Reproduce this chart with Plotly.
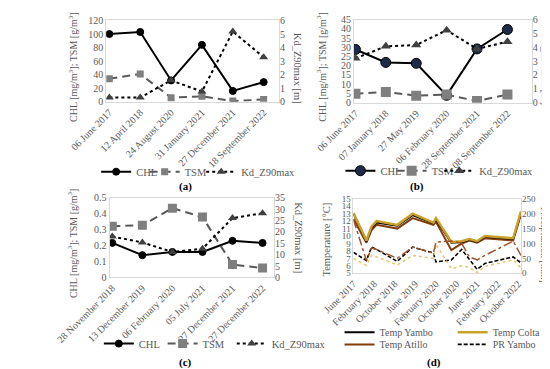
import plotly.graph_objects as go

W, H = 550, 369
FONT = "Liberation Serif"
GRAY = "#595959"

# ---------------- data ----------------
a_dates = ["06 June 2017", "12 April 2018", "24 August 2020", "31 January 2021",
           "27 December 2021", "18 September 2022"]
a_chl = [100, 103, 31.5, 84, 16, 29]
a_tsm = [34, 41, 6, 8, 1, 3.3]
a_kd = [0.31, 0.31, 1.58, 0.75, 5.18, 3.29]

b_dates = ["06 June 2017", "07 January 2018", "27 May 2019", "06 February 2020",
           "28 September 2021", "08 September 2022"]
b_chl = [28.8, 21.8, 21.3, 4.0, 29.1, 39.6]
b_tsm = [4.9, 5.8, 3.8, 4.4, 0.9, 4.4]
b_kd = [3.2, 4.07, 4.16, 5.23, 3.88, 4.4]

c_dates = ["28 November 2018", "13 December 2019", "06 February 2020", "05 July 2021",
           "27 December 2021", "27 December 2022"]
c_chl = [0.217, 0.14, 0.16, 0.16, 0.23, 0.217]
c_tsm = [0.322, 0.328, 0.435, 0.379, 0.081, 0.059]
c_kd = [18.0, 15.4, 11.2, 12.6, 26.1, 28.2]

d_dates = ["2017-06-01", "2017-11-01", "2018-01-01", "2018-03-01", "2018-11-01",
           "2019-05-01", "2020-01-01", "2020-02-01", "2020-08-01", "2020-12-01",
           "2021-03-01", "2021-06-01", "2021-09-01", "2022-08-01", "2022-11-01"]
temp_yambo = [13.0, 9.3, 11.1, 11.8, 11.4, 12.8, 11.7, 12.2, 9.1, 9.2, 9.5, 9.2, 9.9, 9.6, 13.1]
temp_colta = [13.1, 9.4, 11.3, 12.0, 11.5, 13.0, 11.8, 12.4, 9.2, 9.3, 9.6, 9.3, 10.0, 9.7, 13.3]
temp_atillo = [12.3, 9.1, 10.8, 11.5, 11.0, 12.4, 11.5, 11.9, 8.1, 9.0, 9.4, 9.1, 9.7, 9.4, 12.9]
pr_yambo = [70, 43, 88, 80, 40, 88, 68, 38, 45, 80, 47, 13, 33, 55, 35]
pr_colta = [50, 26, 60, 55, 28, 60, 50, 97, 15, 25, 20, 2, 23, 45, 18]
pr_atillo = [180, 43, 85, 80, 50, 88, 68, 105, 108, 100, 55, 45, 60, 108, 60]

# ---------------- helpers ----------------
def px_x(a, b):
    return [a / W, b / W]

def px_y(top, bottom):
    return [1 - bottom / H, 1 - top / H]

fig = go.Figure()
legends = {}

def new_legend(x0, yc, size=10.5):
    name = "legend" if not legends else "legend%d" % (len(legends) + 1)
    legends[name] = dict(orientation="v", x=x0 / W, y=1 - yc / H, xanchor="left",
                         yanchor="middle", font=dict(family=FONT, size=size, color=GRAY),
                         bgcolor="rgba(0,0,0,0)", itemwidth=30, borderwidth=0)
    return name

def add_panel(xa, yl, yr, cats, chl, tsm, kd, chl_mk, tsm_mk, kd_mk, chl_fill, leg_pos):
    (x1, x2, x3), yc = leg_pos
    fig.add_trace(go.Scatter(x=cats, y=chl, name="CHL", xaxis=xa, yaxis=yl,
                             legend=new_legend(x1, yc), mode="lines+markers",
                             line=dict(color="black", width=2),
                             marker=dict(symbol="circle", size=chl_mk, color=chl_fill,
                                         line=dict(color="black", width=1))))
    fig.add_trace(go.Scatter(x=cats, y=tsm, name="TSM", xaxis=xa, yaxis=yl,
                             legend=new_legend(x2, yc), mode="lines+markers",
                             line=dict(color="#595959", width=2, dash="8px,5px"),
                             marker=dict(symbol="square", size=tsm_mk, color="#7F7F7F")))
    fig.add_trace(go.Scatter(x=cats, y=kd, name="Kd_Z90max", xaxis=xa, yaxis=yr,
                             legend=new_legend(x3, yc), mode="lines+markers",
                             line=dict(color="black", width=2, dash="dot"),
                             marker=dict(symbol="triangle-up", size=kd_mk, color="#404040")))

add_panel("x", "y", "y2", a_dates, a_chl, a_tsm, a_kd, 7, 7, 8, "black",
          ((38, 92, 155), 163))
add_panel("x2", "y3", "y4", b_dates, b_chl, b_tsm, b_kd, 10, 10, 9, "#1F2A48",
          ((310, 367, 420), 162))
add_panel("x3", "y5", "y6", c_dates, c_chl, c_tsm, c_kd, 7, 9, 8, "black",
          ((41, 112, 189), 340.7))

# panel d
fig.add_trace(go.Scatter(x=d_dates, y=temp_atillo, name="Temp Atillo", xaxis="x4", yaxis="y7",
                         legend=new_legend(309, 341.5, 10), mode="lines",
                         line=dict(color="#843C0C", width=2)))
fig.add_trace(go.Scatter(x=d_dates, y=temp_yambo, name="Temp Yambo", xaxis="x4", yaxis="y7",
                         legend=new_legend(309, 329, 10), mode="lines",
                         line=dict(color="black", width=2)))
fig.add_trace(go.Scatter(x=d_dates, y=temp_colta, name="Temp Colta", xaxis="x4", yaxis="y7",
                         legend=new_legend(435, 329, 10), mode="lines",
                         line=dict(color="#C9A02A", width=2.5)))
fig.add_trace(go.Scatter(x=d_dates, y=pr_yambo, name="PR Yambo", xaxis="x4", yaxis="y8",
                         legend=new_legend(435, 341.5, 10), mode="lines",
                         line=dict(color="black", width=1.6, dash="4px,2px")))
fig.add_trace(go.Scatter(x=d_dates, y=pr_colta, name="PR Colta", xaxis="x4", yaxis="y8",
                         showlegend=False, mode="lines",
                         line=dict(color="#E3C76A", width=1.5, dash="dot")))
fig.add_trace(go.Scatter(x=d_dates, y=pr_atillo, name="PR Atillo", xaxis="x4", yaxis="y8",
                         showlegend=False, mode="lines",
                         line=dict(color="#A0522D", width=1.5, dash="dashdot")))

tickfont = dict(family=FONT, size=10, color=GRAY)
smallfont = dict(family=FONT, size=9, color=GRAY)
frame = dict(showline=True, linecolor="#D9D9D9", linewidth=1, mirror=True,
             showgrid=False, zeroline=False, ticks="")

def xcat(domain, anchor, rng):
    return dict(domain=domain, anchor=anchor, type="category", range=rng,
                tickangle=-45, tickfont=tickfont, **frame)

def yax(domain, anchor, rng, dtick, side="left", overlay=None, font=tickfont):
    d = dict(domain=domain, anchor=anchor, range=rng, dtick=dtick, tick0=0,
             tickfont=font, side=side, showgrid=False, zeroline=False, ticks="",
             showline=(side == "left"), linecolor="#D9D9D9", mirror=(side == "left"))
    if overlay:
        d["overlaying"] = overlay
    return d

a_x, a_y = px_x(49.3, 241.7), px_y(6.7, 90.7)
b_x, b_y = px_x(325, 523), px_y(5.7, 91.7)
c_x, c_y = px_x(53, 236), px_y(190, 272.3)
d_x, d_y = px_x(324.5, 511), px_y(191, 268)

fig.update_layout(
    width=W, height=H, margin=dict(l=0, r=0, t=0, b=0),
    paper_bgcolor="white", plot_bgcolor="white",
    font=dict(family=FONT, size=10, color=GRAY),
    xaxis=xcat(a_x, "y", [-0.1, 5.5]),
    yaxis=yax(a_y, "x", [0, 120], 20),
    yaxis2=yax(a_y, "x", [0, 6], 1, side="right", overlay="y"),
    xaxis2=xcat(b_x, "y3", [-0.05, 5.8]),
    yaxis3=yax(b_y, "x2", [0, 45], 5),
    yaxis4=yax(b_y, "x2", [0, 6], 1, side="right", overlay="y3"),
    xaxis3=xcat(c_x, "y5", [-0.09, 5.38]),
    yaxis5=yax(c_y, "x3", [0, 0.5], 0.1),
    yaxis6=yax(c_y, "x3", [0, 35], 5, side="right", overlay="y5"),
    xaxis4=dict(domain=d_x, anchor="y7", type="date",
                range=["2017-06-01", "2022-11-01"],
                tick0="2017-06-01", dtick="M8", tickformat="%B %Y",
                tickangle=-45, tickfont=tickfont, **frame),
    yaxis7=yax(d_y, "x4", [5, 15], 1, font=smallfont),
    yaxis8=yax(d_y, "x4", [0, 250], 50, side="right", overlay="y7", font=smallfont),
    **legends,
)

ann = []
def title(x, y, text, angle, size=10.5):
    ann.append(dict(x=x / W, y=1 - y / H, xref="paper", yref="paper", text=text,
                    textangle=angle, showarrow=False, xanchor="center", yanchor="middle",
                    font=dict(family=FONT, size=size, color=GRAY)))

chl_title = "CHL [mg/m<sup>3</sup>]; TSM [g/m<sup>3</sup>]"
title(12, 55, chl_title, -90, 10)
title(262, 56, "Kd_Z90max [m]", 90)
title(289, 55, chl_title, -90, 10)
title(539, 57, "Kd_Z90max [m]", 90)
title(12, 237, chl_title, -90, 10)
title(263, 231, "Kd_Z90max [m]", 90)
title(294, 233, "Temperature [°C]", -90)
title(538, 239, "Precipitation [mm]", 90, 10)

for x, y, t in [(137, 178, "(a)"), (395, 178, "(b)"), (137, 360, "(c)"), (414, 360, "(d)")]:
    ann.append(dict(x=x / W, y=1 - y / H, xref="paper", yref="paper", text="<b>%s</b>" % t,
                    showarrow=False, xanchor="center", yanchor="middle",
                    font=dict(family=FONT, size=11, color="black")))
fig.update_layout(annotations=ann)

fig.write_html("out.html")
